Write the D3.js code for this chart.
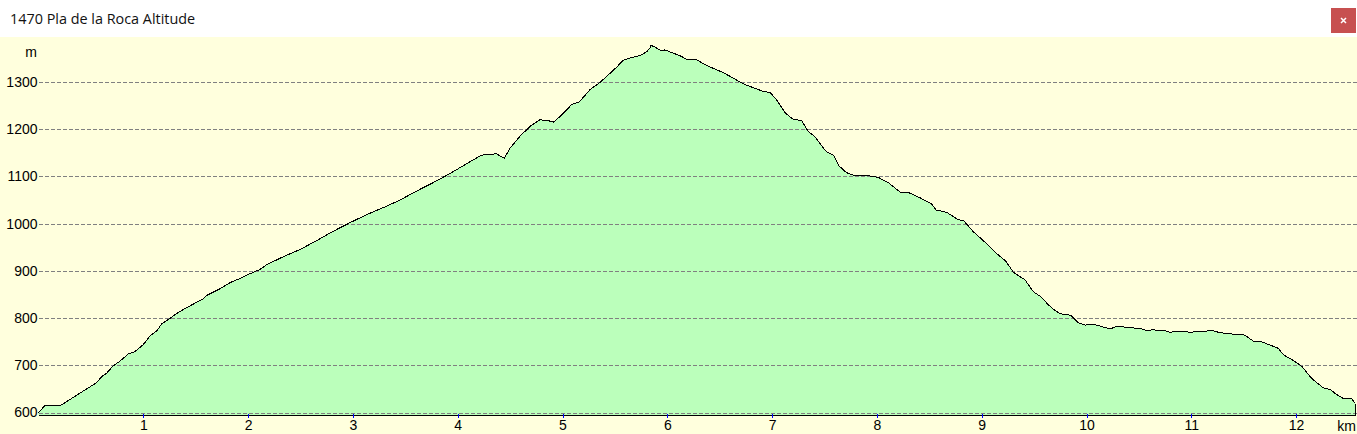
<!DOCTYPE html>
<html><head><meta charset="utf-8">
<script src="https://cdn.jsdelivr.net/npm/d3@7/dist/d3.min.js"></script>
<style>html,body{margin:0;padding:0;background:#fff;overflow:hidden}svg{display:block}</style>
</head><body><svg id="c" width="1357" height="434"></svg>
<script>
const title = "1470 Pla de la Roca Altitude";
const km = [0,0.014,0.062,0.173,0.212,0.332,0.444,0.555,0.603,0.65,0.704,0.778,0.857,0.92,1.0,1.064,1.134,1.175,1.239,1.334,1.446,1.573,1.605,1.732,1.827,1.955,2.018,2.05,2.113,2.177,2.336,2.494,2.654,2.813,2.972,3.13,3.322,3.449,3.608,3.767,3.926,4.085,4.228,4.276,4.372,4.404,4.445,4.5,4.594,4.69,4.785,4.865,4.919,5.008,5.087,5.161,5.263,5.358,5.51,5.58,5.644,5.74,5.803,5.835,5.841,5.883,5.94,5.978,6.058,6.137,6.191,6.274,6.375,6.534,6.63,6.725,6.82,6.916,6.98,7.044,7.123,7.193,7.282,7.346,7.41,7.489,7.52,7.59,7.64,7.71,7.775,7.902,8.013,8.108,8.22,8.3,8.41,8.52,8.564,8.666,8.777,8.825,8.92,9.05,9.142,9.232,9.302,9.413,9.492,9.572,9.636,9.7,9.754,9.85,9.922,9.986,10.066,10.208,10.25,10.294,10.4,10.51,10.568,10.637,10.75,10.797,10.86,11.003,11.067,11.21,11.274,11.4,11.512,11.592,11.655,11.75,11.83,11.88,11.974,12.053,12.15,12.26,12.323,12.387,12.457,12.53,12.565];
const alt = [599,603,615,615,615,632,648,663,676,683,697,709,724,729,744,762,774,788,797,812,826,841,848,862,875,887,894,897,903,913,930,945,964,984,1002,1019,1037,1050,1069,1087,1106,1127,1145,1146,1148,1143,1139,1160,1185,1206,1220,1218,1215,1234,1252,1258,1284,1299,1330,1346,1351,1356,1364,1372,1378,1374,1366,1368,1361,1354,1347,1348,1335,1320,1308,1296,1288,1280,1278,1262,1235,1222,1218,1195,1184,1160,1152,1144,1122,1108,1103,1102,1098,1087,1067,1066,1055,1042,1029,1024,1008,1007,983,957,937,920,897,881,856,844,828,816,809,806,790,785,787,778,779,783,780,778,774,775,773,770,772,770,772,773,769,766,764,751,751,743,736,722,710,698,672,652,649,638,629,629,619];
const yTicks = [600,700,800,900,1000,1100,1200,1300];
const xTicks = [1,2,3,4,5,6,7,8,9,10,11,12];
const xEnd = 12.565, yBase = 594;
const svg = d3.select("#c");
const font = "'Liberation Sans',Arial,sans-serif";
const x = d3.scaleLinear().domain([0,12]).range([38.5,1296.1]);
const y = d3.scaleLinear().domain([600,1300]).range([412.5,82]);
const crisp = v => Math.round(v)+0.5;

svg.append("rect").attr("width",1357).attr("height",434).attr("fill","#fff");
svg.append("rect").attr("y",37).attr("width",1357).attr("height",397).attr("fill","#FFFFDD");
svg.append("text").text(title).attr("x",10).attr("y",24).attr("font-family","'Open Sans','Noto Sans',sans-serif").attr("font-size",14.4).attr("fill","#111");
svg.append("rect").attr("x",1331).attr("y",8).attr("width",25).attr("height",25).attr("fill","#C75050");
svg.append("path").attr("d","M1341 18L1346 23M1346 18L1341 23").attr("stroke","#fff").attr("stroke-width",1.5).attr("fill","none");

const pts = km.map((k,i)=>[k,alt[i]]);
svg.append("path").datum(pts).attr("fill","#BBFFBB")
  .attr("d",d3.area().x(d=>x(d[0])).y0(y(yBase)).y1(d=>y(d[1])));

const yAxis = svg.append("g").attr("transform",`translate(${x(0)+1},0)`).call(d3.axisLeft(y).tickValues(yTicks).tickSize(0).tickPadding(2).tickFormat(d3.format("d")));
yAxis.select(".domain").remove();
yAxis.selectAll("text").attr("font-family",font).attr("font-size",14).attr("fill","#000");
svg.selectAll("line.grid").data(yTicks).join("line").attr("class","grid")
  .attr("x1",39).attr("x2",1357).attr("y1",d=>crisp(y(d))).attr("y2",d=>crisp(y(d)))
  .attr("stroke","#808080").attr("stroke-dasharray","4 2").attr("shape-rendering","crispEdges");

svg.append("path").datum(pts).attr("fill","none").attr("stroke","#000").attr("stroke-width",1).attr("shape-rendering","crispEdges")
  .attr("d",d3.line().x(d=>x(d[0])).y(d=>y(d[1])));
svg.append("line").attr("x1",1355.5).attr("x2",1355.5).attr("y1",y(alt[alt.length-1])).attr("y2",y(yBase)).attr("stroke","#000").attr("shape-rendering","crispEdges");

const xAxis = svg.append("g").attr("transform",`translate(0,${crisp(y(yBase))})`).call(d3.axisBottom(x).tickValues(xTicks).tickSize(0).tickPadding(5).tickFormat(d3.format("d")));
xAxis.select(".domain").remove();
xAxis.selectAll("text").attr("font-family",font).attr("font-size",14).attr("fill","#000");
svg.append("line").attr("x1",39).attr("x2",1356).attr("y1",415.5).attr("y2",415.5).attr("stroke","#000").attr("stroke-width",1).attr("shape-rendering","crispEdges");
svg.selectAll("line.tick").data(xTicks).join("line").attr("class","tick")
  .attr("x1",d=>crisp(x(d))).attr("x2",d=>crisp(x(d))).attr("y1",414).attr("y2",418).attr("stroke","#0000FF").attr("shape-rendering","crispEdges");

svg.append("text").text("m").attr("x",37).attr("y",57).attr("text-anchor","end").attr("font-family",font).attr("font-size",14);
svg.append("text").text("km").attr("x",1356).attr("y",431).attr("text-anchor","end").attr("font-family",font).attr("font-size",14);
</script></body></html>
